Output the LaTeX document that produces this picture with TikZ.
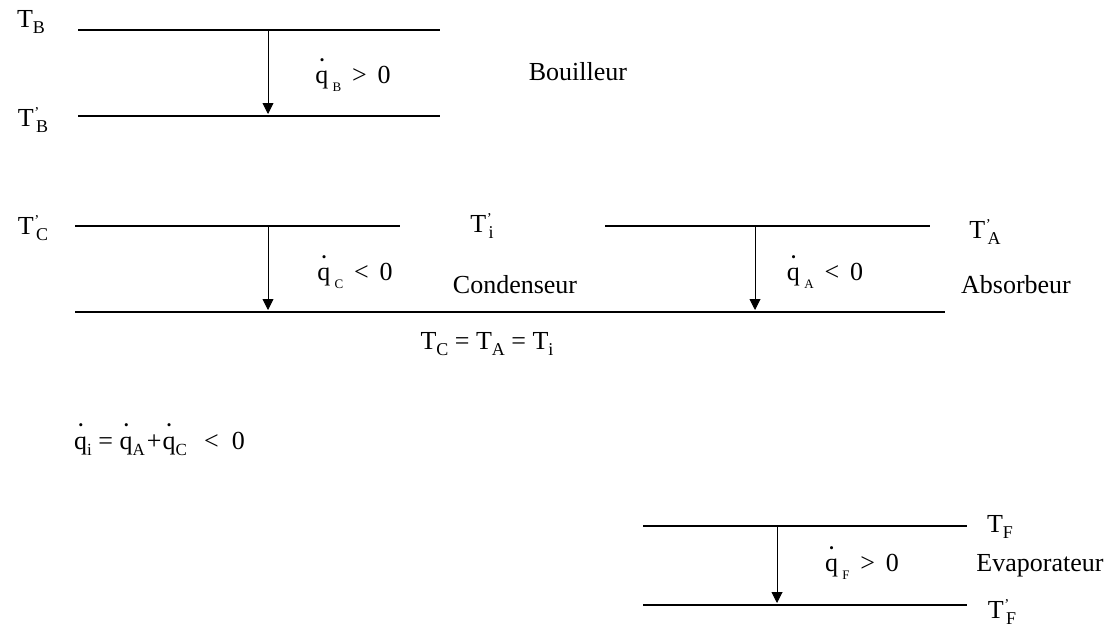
\documentclass[tikz,border=0pt]{standalone}
\usepackage{fontspec}
\setmainfont{Liberation Serif}
\usetikzlibrary{arrows.meta}
\newcommand{\Tb}[1]{T\raisebox{-0.22em}{\fontsize{18}{18}\selectfont #1}}
\newcommand{\Tp}[1]{T\kern0.02em\raisebox{0.35em}{\fontsize{15}{15}\selectfont '}\kern-0.12em\raisebox{-0.22em}{\fontsize{18}{18}\selectfont #1}}
\newcommand{\qd}{\makebox[0pt][l]{\hspace{0.17em}\raisebox{0.74em}{\fontsize{13}{13}\selectfont\textbullet}}q}
\newcommand{\qs}[1]{\qd\,\raisebox{-0.3em}{\fontsize{13}{13}\selectfont #1}}
\newcommand{\qt}[1]{\qd\raisebox{-0.25em}{\fontsize{17}{17}\selectfont #1}}
\tikzset{
  lab/.style={inner sep=0pt, font=\fontsize{26}{28}\selectfont},
  level/.style={line width=1.6pt},
  flow/.style={line width=0.9pt, -{Triangle[length=11pt,width=11pt]}}
}
\begin{document}
\begin{tikzpicture}[x=1pt,y=-1pt]
\useasboundingbox (0,0) rectangle (1110,635);
% Bouilleur
\coordinate (b1s) at (78,30); \coordinate (b1e) at (440,30);
\coordinate (b2s) at (78,116); \coordinate (b2e) at (440,116);
\coordinate (bA) at (268,31); \coordinate (bB) at (268,114);
\draw[level] (b1s) -- (b1e);
\draw[level] (b2s) -- (b2e);
\draw[flow] (bA) -- (bB);
\node[lab] (TB) at (31,22) {\Tb{B}};
\node[lab] (TpB) at (33,120) {\Tp{B}};
\node[lab] (qB) at (353,75) {\qs{B} \,>\, 0};
\node[lab] (bou) at (578,72) {Bouilleur};
% Condenseur / Absorbeur
\coordinate (c1s) at (75,226); \coordinate (c1e) at (400,226);
\coordinate (a1s) at (605,226); \coordinate (a1e) at (930,226);
\coordinate (l2s) at (75,312); \coordinate (l2e) at (945,312);
\coordinate (cA) at (268,227); \coordinate (cB) at (268,310);
\coordinate (aA) at (755,227); \coordinate (aB) at (755,310);
\draw[level] (c1s) -- (c1e);
\draw[level] (a1s) -- (a1e);
\draw[level] (l2s) -- (l2e);
\draw[flow] (cA) -- (cB);
\draw[flow] (aA) -- (aB);
\node[lab] (TpC) at (33,228) {\Tp{C}};
\node[lab] (Tpi) at (482,226) {\Tp{i}};
\node[lab] (TpA) at (985,232) {\Tp{A}};
\node[lab] (qC) at (355,272) {\qs{C} \,<\, 0};
\node[lab] (cond) at (515,285) {Condenseur};
\node[lab] (qA) at (825,272) {\qs{A} \,<\, 0};
\node[lab] (abs) at (1016,285) {Absorbeur};
\node[lab] (eq) at (487,344) {\Tb{C} = \Tb{A} = \Tb{i}};
% bilan
\node[lab, anchor=west] (qi) at (74,440) {\qt{i} = \qt{A}\kern2pt+\kern1pt\qt{C} \ \,< \ 0};
% Evaporateur
\coordinate (f1s) at (643,526); \coordinate (f1e) at (967,526);
\coordinate (f2s) at (643,605); \coordinate (f2e) at (967,605);
\coordinate (fA) at (777,527); \coordinate (fB) at (777,603);
\draw[level] (f1s) -- (f1e);
\draw[level] (f2s) -- (f2e);
\draw[flow] (fA) -- (fB);
\node[lab] (TF) at (1000,527) {\Tb{F}};
\node[lab] (qF) at (862,563) {\qs{F} \,>\, 0};
\node[lab] (evap) at (1040,566) {Evaporateur};
\node[lab] (TpF) at (1002,612) {\Tp{F}};
\end{tikzpicture}
\end{document}
